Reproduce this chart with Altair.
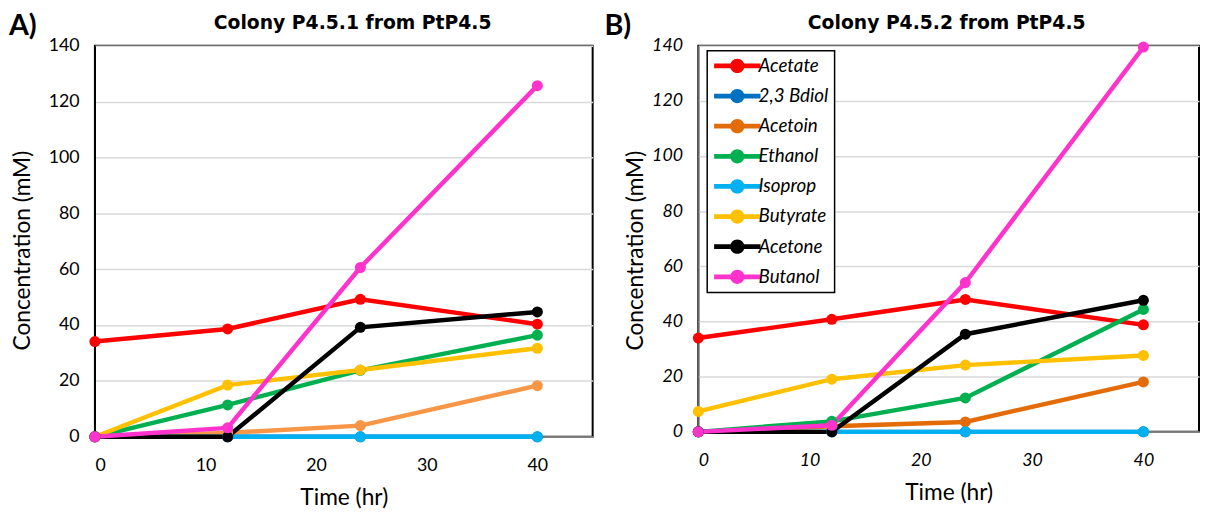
import altair as alt
import pandas as pd

# ---------------- data ----------------
time = [0, 12, 24, 40]
compounds = ["Acetate", "2,3 Bdiol", "Acetoin", "Ethanol", "Isoprop", "Butyrate", "Acetone", "Butanol"]

# Panel A: Colony P4.5.1
a_acetate = [34.1, 38.6, 49.2, 40.3]
a_bdiol = [0, 0, 0, 0]
a_acetoin = [0, 1.4, 4.0, 18.3]
a_ethanol = [0, 11.4, 23.8, 36.4]
a_isoprop = [0, 0, 0, 0]
a_butyrate = [0, 18.5, 23.9, 31.7]
a_acetone = [0, 0, 39.2, 44.7]
a_butanol = [0, 3.2, 60.6, 125.7]

# Panel B: Colony P4.5.2
b_acetate = [34.0, 40.8, 48.0, 38.8]
b_bdiol = [0, 0, 0, 0]
b_acetoin = [0, 2.0, 3.6, 18.1]
b_ethanol = [0, 3.8, 12.3, 44.4]
b_isoprop = [0, 0, 0, 0]
b_butyrate = [7.4, 19.1, 24.2, 27.7]
b_acetone = [0, 0, 35.4, 47.7]
b_butanol = [0, 2.4, 54.1, 139.5]

colors_a = ["#FF0000", "#0070C0", "#F79646", "#00B050", "#00B0F0", "#FFC000", "#000000", "#FF33CC"]
colors_b = ["#FF0000", "#0070C0", "#E36C09", "#00B050", "#00B0F0", "#FFC000", "#000000", "#FF33CC"]

x_ticks = [0, 10, 20, 30, 40]
y_ticks = [0, 20, 40, 60, 80, 100, 120, 140]

FONT = "Lato"
TITLE_FONT = "DejaVu Sans"

SYMBOL = ("M-4.7,-0.48L4.7,-0.48L4.7,0.48L-4.7,0.48Z "
          "M-1.45,0A1.45,1.45 0 1,1 1.45,0A1.45,1.45 0 1,1 -1.45,0Z")


def build(series):
    rows = []
    for name, vals in zip(compounds, series):
        for t, v in zip(time, vals):
            rows.append({"Compound": name, "Time": t, "Conc": v})
    return pd.DataFrame(rows)


def panel(series, colors, title, label, italic, show_legend, height, width,
          title_dx, label_x, ytitle_x, ytitle_y, ydomain_color):
    df = build(series)
    style = "italic" if italic else "normal"
    cscale = alt.Scale(domain=compounds, range=colors)
    if show_legend:
        legend = alt.Legend(
            title=None, orient="none", legendX=9, legendY=5,
            symbolType=SYMBOL, symbolSize=100, symbolStrokeWidth=0, symbolOffset=15,
            labelFont=FONT, labelFontSize=19, labelFontStyle=style,
            labelColor="black", labelOffset=12, rowPadding=10.5, padding=6,
            strokeColor="black", fillColor="white",
        )
    else:
        legend = None
    color = alt.Color("Compound:N", scale=cscale, legend=legend, sort=compounds)
    x = alt.X("Time:Q", scale=alt.Scale(domain=[0, 45], nice=False),
              axis=alt.Axis(values=x_ticks, title="Time (hr)", grid=False, ticks=False,
                            labelFont=FONT, labelFontSize=18, labelFontStyle=style,
                            labelColor="black", labelPadding=20,
                            domainColor="#808080", domainWidth=1.5,
                            titleFont=FONT, titleFontSize=23, titleFontWeight="normal",
                            titleColor="black", titleY=62, titleBaseline="middle"))
    y = alt.Y("Conc:Q", scale=alt.Scale(domain=[0, 140], nice=False),
              axis=alt.Axis(values=y_ticks, title="Concentration (mM)", grid=True,
                            gridColor="#D9D9D9", gridWidth=1.5, ticks=False,
                            labelFont=FONT, labelFontSize=18, labelFontStyle=style,
                            labelColor="black", labelPadding=16,
                            domainColor=ydomain_color, domainWidth=1.2,
                            titleFont=FONT, titleFontSize=23, titleFontWeight="normal",
                            titleColor="black", titleX=ytitle_x, titleY=ytitle_y,
                            titleAngle=270, titleAlign="center", titleBaseline="middle"))
    lines = alt.Chart(df).mark_line(strokeWidth=4.5).encode(x=x, y=y, color=color)
    pts = alt.Chart(df).mark_circle(size=125, opacity=1).encode(x=x, y=y, color=color)
    lab = alt.Chart(pd.DataFrame({"t": [label]})).mark_text(
        font=FONT, fontSize=29, fontWeight="bold", align="left", baseline="alphabetic",
        color="black").encode(x=alt.value(label_x), y=alt.value(-11), text="t:N")
    return alt.layer(lines, pts, lab).properties(
        width=width, height=height,
        title=alt.TitleParams(text=title, font=TITLE_FONT, fontSize=19, fontWeight="bold",
                              color="black", anchor="middle", baseline="alphabetic",
                              dx=title_dx, dy=36.4, offset=0),
    )


A = panel([a_acetate, a_bdiol, a_acetoin, a_ethanol, a_isoprop, a_butyrate, a_acetone, a_butanol],
          colors_a, "Colony P4.5.1 from PtP4.5", "A)", False, False, 396, 504,
          9, -87, -73, 207, "black")
B = panel([b_acetate, b_bdiol, b_acetoin, b_ethanol, b_isoprop, b_butyrate, b_acetone, b_butanol],
          colors_b, "Colony P4.5.2 from PtP4.5", "B)", True, True, 391, 507,
          -2, -95, -64, 207, "#808080")

chart = alt.hconcat(A, B, spacing=10).resolve_scale(color="independent").properties(
    padding={"left": 0, "top": 0, "right": 0, "bottom": 0}
).configure_view(stroke="black", strokeWidth=2).configure_legend(strokeWidth=1.5)

chart.save("out.html", embed_options={"renderer": "svg", "actions": False})
